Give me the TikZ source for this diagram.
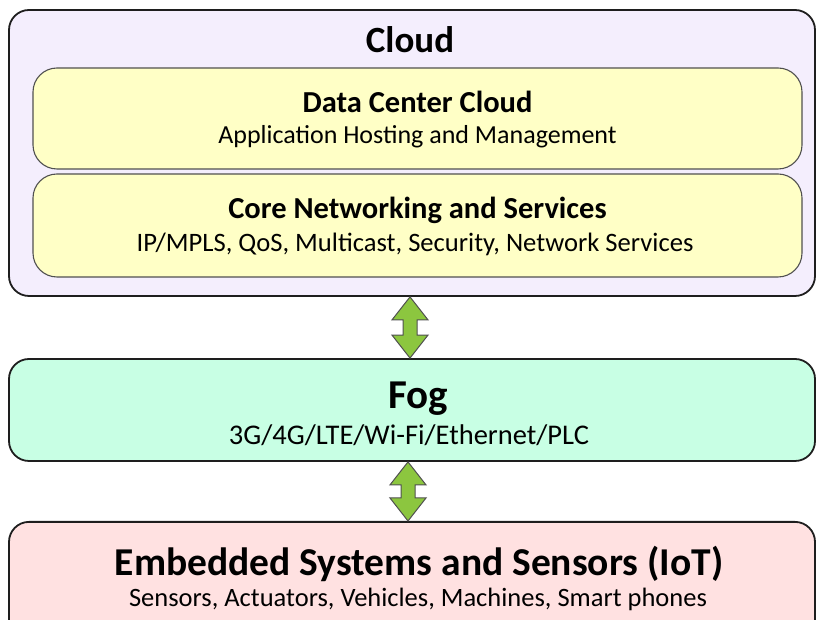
\documentclass[tikz,border=0pt]{standalone}
\usepackage{fontspec}
\setmainfont{Carlito}
\usetikzlibrary{calc}
\definecolor{cloudfill}{HTML}{F4EEFD}
\definecolor{layerfill}{HTML}{FFFFC6}
\definecolor{fogfill}{HTML}{C8FFE4}
\definecolor{edgefill}{HTML}{FFE1E1}
\definecolor{arrowgreen}{HTML}{8CC63F}
\definecolor{boxline}{HTML}{1E1E1E}
\definecolor{innerline}{HTML}{505050}
\tikzset{
  tier/.style={draw=boxline, line width=1.8pt, rounded corners=20pt, inner sep=0pt},
  layer/.style={draw=innerline, line width=1.1pt, fill=layerfill, rounded corners=24pt, inner sep=0pt},
  bigtitle/.style={font=\fontsize{37}{40}\selectfont\bfseries, inner sep=0pt},
  midtitle/.style={font=\fontsize{30.5}{33}\selectfont\bfseries, inner sep=0pt},
  subtext/.style={font=\fontsize{26}{28}\selectfont, inner sep=0pt},
  linkarrow/.style={draw=innerline, line width=1pt, fill=arrowgreen, line join=miter}
}
\begin{document}
\begin{tikzpicture}[x=1pt,y=1pt]
  \useasboundingbox (0,0) rectangle (816,620);
  \clip (0,0) rectangle (816,620);
  % cloud tier with its two layers
  \node[tier, fill=cloudfill, minimum width=806pt, minimum height=286pt] (cloud) at (412,467) {};
  \node[bigtitle] (cloudt) at (410,580) {Cloud};
  \node[layer, minimum width=769pt, minimum height=101pt] (dc) at (417.5,501.5) {};
  \node[midtitle] (dct) at (417.5,518) {Data Center Cloud};
  \node[subtext] (dcs) at (417.5,483) {Application Hosting and Management};
  \node[layer, minimum width=769pt, minimum height=103pt] (core) at (417.5,394.5) {};
  \node[midtitle] (coret) at (417.5,410) {Core Networking and Services};
  \node[subtext, font=\fontsize{26.6}{28}\selectfont] (cores) at (415,376) {IP/MPLS, QoS, Multicast, Security, Network Services};
  % fog tier
  \node[tier, fill=fogfill, minimum width=806pt, minimum height=102pt] (fog) at (412,210) {};
  \node[bigtitle, font=\fontsize{41}{44}\selectfont\bfseries] (fogt) at (418,221) {Fog};
  \node[subtext, font=\fontsize{28.5}{30}\selectfont] (fogs) at (409,185) {3G/4G/LTE/Wi-Fi/Ethernet/PLC};
  % device tier (runs past the lower edge)
  \node[tier, fill=edgefill, minimum width=806pt, minimum height=140pt, anchor=north] (edge) at (412,99) {};
  \node[bigtitle, font=\fontsize{39.5}{42}\selectfont\bfseries] (edget) at (419,56) {Embedded Systems and Sensors (IoT)};
  \node[subtext, font=\fontsize{26.5}{28}\selectfont] (edges) at (418,21) {Sensors, Actuators, Vehicles, Machines, Smart phones};
  % two-way links between tiers
  \coordinate (a1) at ($(cloud.south)+(-2,0)$);
  \coordinate (b1) at ($(fog.north)+(-2,0)$);
  \coordinate (a2) at ($(fog.south)+(-4,0)$);
  \coordinate (b2) at ($(edge.north)+(-4,0)$);
  \foreach \s/\e in {a1/b1, a2/b2}{
    \draw[linkarrow] let \p1=(\s), \p2=(\e) in
      (\x1,\y1) -- (\x1+18,\y1-23) -- (\x1+7,\y1-23) -- (\x1+7,\y2+23) -- (\x1+18,\y2+23)
      -- (\x1,\y2) -- (\x1-18,\y2+23) -- (\x1-7,\y2+23) -- (\x1-7,\y1-23) -- (\x1-18,\y1-23) -- cycle;
  }
\end{tikzpicture}
\end{document}
